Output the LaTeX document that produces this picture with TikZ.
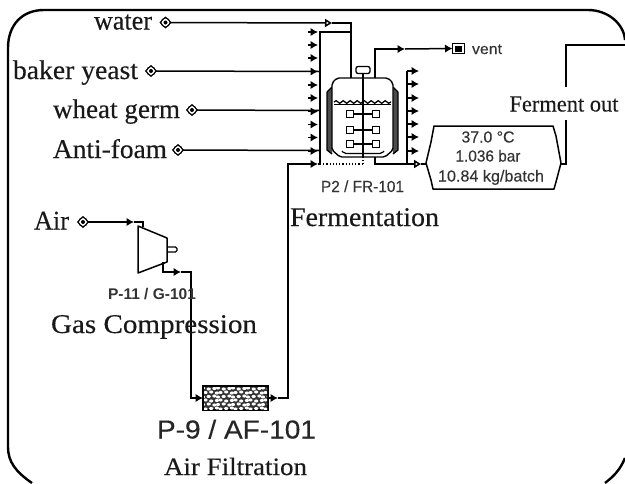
\documentclass[tikz,border=0pt]{standalone}
\usepackage{fontspec}
\usepackage{graphicx}
\setmainfont{Liberation Serif}
\setsansfont{Liberation Sans}
\newfontfamily\serifheavy[FakeBold=0.3]{Liberation Serif}
\newfontfamily\sansheavy[FakeBold=0.3]{Liberation Sans}
\usetikzlibrary{arrows.meta,decorations.pathmorphing,calc}
\newcommand{\fitw}[2]{\resizebox{#1pt}{\height}{#2}}
\definecolor{lab}{gray}{0.2}
\tikzset{
  x=1pt,y=-1pt,
  every node/.style={inner sep=0pt,outer sep=0pt},
  flow/.style={line width=1.5pt,black},
  arr/.style={line width=1.5pt,-{Latex[length=7.5pt,width=8.5pt]}},
  openarr/.style={line width=1.5pt,-{Triangle[open,length=7pt,width=8pt,fill=white]}},
  serlab/.style={anchor=base,font=\serifheavy\fontsize{27}{27}\selectfont,text=black!90},
  serlabs/.style={anchor=base,font=\serifheavy\fontsize{23}{23}\selectfont,text=black!90},
  serlabm/.style={anchor=base,font=\serifheavy\fontsize{25}{25}\selectfont,text=black!90},
  sanslab/.style={anchor=base,font=\sansheavy\fontsize{16}{16}\selectfont,text=lab},
  sanslabb/.style={anchor=base,font=\sffamily\bfseries\fontsize{15.5}{16}\selectfont,text=lab},
  sansbig/.style={anchor=base,font=\sansheavy\fontsize{26}{26}\selectfont,text=black!85},
  srcsym/.style={circle,draw,line width=0.8pt,minimum size=9pt,fill=white},
  ventsym/.style={draw,line width=1.3pt,minimum width=12pt,minimum height=10pt,fill=white},
  impl/.style={draw,line width=1.2pt,fill=white,minimum size=6.5pt},
}
\begin{document}
\begin{tikzpicture}
\useasboundingbox (0,0) rectangle (625,483);
% frame
\draw[line width=2.4pt] (32,483) .. controls (16,472) and (8,462) .. (8,447) -- (8,48)
  .. controls (8,25) and (22,10) .. (44,10) -- (588,10)
  .. controls (608,10) and (624,24) .. (625,40);
\draw[line width=2.4pt] (625,458) .. controls (620,470) and (614,476) .. (605,483);

% source symbols
\node[srcsym] (swater) at (165.5,22.5) {};
\node[srcsym] (syeast) at (151,71) {};
\node[srcsym] (swheat) at (192,110) {};
\node[srcsym] (santi) at (178,150) {};
\node[srcsym] (sair) at (83,222) {};
\foreach \n in {swater,syeast,swheat,santi,sair}{
  \draw[line width=1pt,line join=round] ($(\n)+(-5.5,0)$) -- ($(\n)+(0,-5.5)$) -- ($(\n)+(5.5,0)$) -- ($(\n)+(0,5.5)$) -- cycle;
  \fill ($(\n)$) circle (2pt);
}
% source labels
\node[serlab] (lwater) at (123,29.5) {\fitw{58}{water}};
\node[serlab] (lyeast) at (75.5,79) {\fitw{125}{baker yeast}};
\node[serlab] (lwheat) at (116.5,118) {\fitw{127}{wheat germ}};
\node[serlab] (lanti) at (110,158) {\fitw{114}{Anti-foam}};
\node[serlab] (lair) at (51.5,229.5) {\fitw{35}{Air}};

% coordinates
\coordinate (mlT) at (320,32);
\coordinate (mlB) at (320,164);
\coordinate (vTL) at (351,78);
\coordinate (vTR) at (375,78);
\coordinate (vBR) at (375,157);
\coordinate (vBM) at (363,157);
\coordinate (tee) at (407,164);
\coordinate (hexL) at (426,164);
\coordinate (hexR) at (561,164);

% water line
\draw[openarr] (swater) -- (332,23);
\draw[flow] (332,23) -- (351,23) -- (vTL);
\draw[flow] (mlB) -- (mlT) -- (351,32);
% stubs left manifold
\foreach \yy in {32,45,58,71.5,85,98,111.5,124.5,137.5,151}
  \draw[arr] (308,\yy) -- (318,\yy);
% feed lines
\draw[flow] (syeast) -- (320,71.5);
\draw[flow] (swheat) -- (320,110.5);
\draw[flow] (santi) -- (320,150.5);

% air
\coordinate (cIn) at (143,227);
\coordinate (cOut) at (163,262);
\node[draw,line width=1.4pt,fill=white,minimum width=65pt,minimum height=24pt] (filt) at (235.5,398) {};
\begin{scope}
\clip (204,387) rectangle (267,409);
\fill[black!80] (204,387) rectangle (267,409);
\foreach \i in {0,...,13}{
  \foreach \j in {0,...,5}{
    \pgfmathsetmacro{\px}{203+5*\i+2.5*mod(\j,2)+0.7*mod(\i*7+\j*3,3)}
    \pgfmathsetmacro{\py}{388+4*\j+0.5*mod(\i*5+\j,3)}
    \fill[white] (\px,\py) ellipse (2.1pt and 1.55pt);
  }}
\end{scope}
\draw[arr] (sair) -- (134,222);
\draw[flow] (134,222) -- (143,222) -- (cIn);
\draw[fill=white,line join=round,line width=1.5pt] (138,226) -- (167,238) -- (167,262) -- (138,273) -- cycle;
\draw[line width=1.2pt,rounded corners=1.5pt] (167,247) -- (177,247) -- (177,252) -- (167,252);
\draw[flow] (cOut) -- (163,272) -- (173,272);
\draw[arr] (163,272) -- (181,272);
\draw[flow] (181,272) -- (191,272) -- (191,398) -- (195,398);
\draw[arr] (191,398) -- (filt.west);
\draw[arr] (filt.east) -- (278,398);
\draw[flow] (278,398) -- (288,398) -- (288,164) -- (310,164);
\draw[arr] (288,164) -- (318,164);
\draw[flow] (318,164) -- (mlB);
\draw[line width=1.2pt,dotted] (mlB) -- (363,164);
\draw[line width=1.2pt,dotted] (vBM) -- (363,164);

% vessel
\fill[black!70] (327,92) -- (332,87) -- (332,154) -- (327,150) -- cycle;
\fill[black!70] (398,92) -- (393,87) -- (393,154) -- (398,150) -- cycle;
\draw[line width=1.3pt] (327,92) -- (332,87) (327,92) -- (327,150) -- (332,154);
\draw[line width=1.3pt] (398,92) -- (393,87) (398,92) -- (398,150) -- (393,154);
\draw[line width=1.4pt,fill=white,line join=round,rounded corners=2pt] (337,78) -- (388,78) -- (393,83) -- (393,150) -- (385,157) -- (340,157) -- (332,150) -- (332,83) -- cycle;
\draw[line width=1.3pt,decorate,decoration={snake,amplitude=1.3pt,segment length=7pt}] (334,102) -- (391,102);
\draw[line width=1pt] (334,104.5) -- (391,104.5);
\draw[line width=1.2pt,rounded corners=2pt] (342,151) -- (344,153.5) -- (382,153.5) -- (384,151);
\draw[line width=1.4pt] (363,73) -- (vBM);
\node[draw,line width=1.3pt,fill=white,rounded corners=2pt,minimum width=14pt,minimum height=7pt] (motor) at (363,70) {};
\foreach \yy in {114,130,144}{
  \draw[line width=1.4pt] (350,\yy) -- (376,\yy);
  \node[impl] at (350,\yy) {};
  \node[impl] at (376,\yy) {};
}

% vent
\node[ventsym] (vent) at (458.5,48.5) {};
\fill ($(vent)+(-3.5,-3)$) rectangle ($(vent)+(3.5,3)$);
\node[anchor=base,font=\sansheavy\fontsize{15}{15}\selectfont,text=lab] (lvent) at (487,54) {\fitw{30}{vent}};
\draw[arr] (vTR) -- (375,49) -- (405,49);
\draw[arr] (405,49) -- (vent.west);

% right manifold and outlet
\draw[flow] (tee) -- (407,71);
\foreach \yy in {71,84,98,111,124,137,151}
  \draw[arr] (407,\yy) -- (419,\yy);
\draw[flow] (vBR) -- (375,164) -- (tee);
\draw[openarr] (tee) -- (421,164);
\draw[flow] (421,164) -- (hexL);

% hexagon
\draw[line width=1.5pt,line join=round] (434,126) -- (553,126) -- (556,136) -- (561,163) -- (556,182) -- (554,189) -- (433,189) -- (431,180) -- (426,163) -- (431,142) -- cycle;
\node[sanslab] (t1) at (488,142.5) {\fitw{53}{37.0 °C}};
\node[sanslab] (t2) at (488,161.5) {\fitw{65}{1.036 bar}};
\node[sanslab] (t3) at (491,181.5) {\fitw{106}{10.84 kg/batch}};

% ferment out
\node[serlabs] (lout) at (564,111.5) {\fitw{109}{Ferment out}};
\draw[flow] (hexR) -- (566,164) -- (566,120);
\draw[flow] (566,87) -- (566,45) -- (625,45);

% labels
\node[sanslab] (lp2) at (362.5,192) {\fitw{83}{P2 / FR-101}};
\node[serlab] (lfer) at (364.5,226) {\fitw{149}{Fermentation}};
\node[sanslabb] (lp11) at (152,299.5) {\fitw{88}{P-11 / G-101}};
\node[serlab] (lgas) at (154,333) {\fitw{206}{Gas Compression}};
\node[sansbig] (lp9) at (236.5,438.5) {\fitw{159}{P-9 / AF-101}};
\node[serlabm] (lfil) at (235.5,475) {\fitw{143}{Air Filtration}};
\end{tikzpicture}
\end{document}
